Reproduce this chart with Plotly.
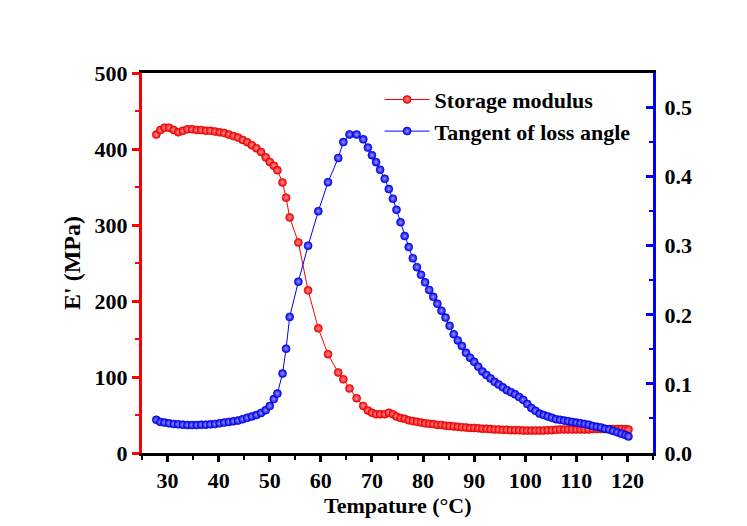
import plotly.graph_objects as go

temperature = [27.8, 28.6, 29.4, 30.3, 31.2, 32.1, 33.0, 33.9, 34.8, 35.7, 36.6, 37.5, 38.4, 39.3,
               40.2, 41.1, 42.0, 42.9, 43.8, 44.7, 45.6, 46.5, 47.4, 48.3, 49.2, 50.0, 50.8, 51.5,
               52.5, 53.2, 53.9, 55.6, 57.5, 59.5, 61.4, 63.4, 64.4, 65.6, 67.0, 68.3, 69.2, 70.0,
               70.8, 71.6, 72.5, 73.3, 74.1, 74.8, 75.6, 76.4, 77.2, 78.0, 78.8, 79.6, 80.4, 81.2,
               82.0, 82.8, 83.6, 84.4, 85.2, 86.0, 86.8, 87.6, 88.4, 89.2, 90.0, 90.8, 91.6, 92.4,
               93.2, 94.0, 94.8, 95.6, 96.4, 97.2, 98.0, 98.8, 99.6, 100.4, 101.2, 102.0, 102.8,
               103.6, 104.4, 105.2, 106.0, 106.8, 107.6, 108.4, 109.2, 110.0, 110.8, 111.6, 112.4,
               113.2, 114.0, 114.8, 115.6, 116.4, 117.2, 118.0, 118.8, 119.6, 120.2]

storage_modulus = [419, 425, 428, 428, 425, 422, 424, 426, 426, 425, 425, 424, 424, 423,
                   422, 421, 419, 417, 415, 412, 409, 405, 401, 396, 389, 383, 378, 372,
                   356, 336, 310, 277, 214, 164, 130, 106, 97, 85, 72, 62, 56, 53,
                   51, 51, 51, 53, 51, 48, 46, 45, 43, 42, 41, 40, 39, 38.5,
                   38, 37, 37, 36, 35.5, 35, 34.5, 34, 33.5, 33, 33, 32.5, 32, 32,
                   31.5, 31, 31, 30.5, 30.5, 30, 30, 30, 29.5, 29.5, 29.5, 29.5, 29.5,
                   29.5, 30, 30, 30.5, 31, 31, 31, 31, 31, 31, 31, 31,
                   31.5, 31.5, 31.5, 31.5, 31.5, 31.5, 31.5, 31.5, 31.5, 31]

tan_delta = [0.048, 0.045, 0.044, 0.043, 0.042, 0.0415, 0.041, 0.0405, 0.0405, 0.0405, 0.041, 0.041,
             0.0415, 0.042, 0.043, 0.044, 0.045, 0.046, 0.047, 0.049, 0.051, 0.053, 0.055, 0.058,
             0.062, 0.068, 0.078, 0.086, 0.115, 0.151, 0.197, 0.248, 0.300, 0.350, 0.392, 0.427,
             0.450, 0.461, 0.461, 0.454, 0.442, 0.431, 0.421, 0.410, 0.397, 0.382, 0.368, 0.352,
             0.334, 0.314, 0.298, 0.282, 0.269, 0.258, 0.247, 0.236, 0.226, 0.216, 0.206, 0.196,
             0.184, 0.172, 0.163, 0.155, 0.145, 0.138, 0.132, 0.125, 0.118, 0.113, 0.108, 0.103,
             0.099, 0.095, 0.091, 0.088, 0.085, 0.081, 0.077, 0.071, 0.065, 0.061, 0.057, 0.055,
             0.053, 0.051, 0.049, 0.048, 0.047, 0.046, 0.045, 0.044, 0.043, 0.042, 0.041, 0.039,
             0.038, 0.037, 0.035, 0.034, 0.032, 0.030, 0.028, 0.026, 0.024]

x_ticks = [30, 40, 50, 60, 70, 80, 90, 100, 110, 120]
left_ticks = [0, 100, 200, 300, 400, 500]
right_ticks = [0.0, 0.1, 0.2, 0.3, 0.4, 0.5]

FONT = "Liberation Serif"
RED = "#ff0000"
BLUE = "#0000ff"

fig = go.Figure()
fig.add_trace(go.Scatter(
    x=temperature, y=storage_modulus, name="Storage modulus", mode="lines+markers",
    line=dict(color=RED, width=1),
    marker=dict(size=8, color=RED, gradient=dict(type="radial", color="#ff9a9a"),
                line=dict(color="#d00000", width=0.6)),
    yaxis="y"))
fig.add_trace(go.Scatter(
    x=temperature, y=tan_delta, name="Tangent of loss angle", mode="lines+markers",
    line=dict(color=BLUE, width=1),
    marker=dict(size=8, color=BLUE, gradient=dict(type="radial", color="#9a9aff"),
                line=dict(color="#0000c0", width=0.6)),
    yaxis="y2"))

tickfont = dict(family=FONT, size=22, color="black", weight="bold")
fig.update_layout(
    width=747, height=526,
    margin=dict(l=134, r=102, t=65, b=81),
    paper_bgcolor="white", plot_bgcolor="white",
    showlegend=True,
    legend=dict(x=0.465, y=0.985, xanchor="left", yanchor="top",
                bgcolor="rgba(0,0,0,0)", itemwidth=45,
                font=dict(family=FONT, size=22, color="black", weight="bold"),
                tracegroupgap=0),
    xaxis=dict(range=[25, 125], tickvals=x_ticks, ticks="outside", ticklen=6, tickwidth=3,
               tickcolor="black", showline=True, linewidth=3, linecolor="black", mirror=True,
               showgrid=False, zeroline=False, tickfont=tickfont,
               minor=dict(ticks="outside", ticklen=4, tickwidth=2, tickcolor="black", dtick=5, tick0=25, showgrid=False)),
    yaxis=dict(range=[0, 500], tickvals=left_ticks, ticks="outside", ticklen=7, tickwidth=3,
               tickcolor=RED, showline=True, linewidth=3, linecolor=RED,
               showgrid=False, zeroline=False, tickfont=tickfont,
               minor=dict(ticks="outside", ticklen=4, tickwidth=2, tickcolor=RED, dtick=50, tick0=0, showgrid=False),
               title=dict(text="E' (MPa)", font=dict(family=FONT, size=24, color="black", weight="bold"), standoff=8)),
    yaxis2=dict(range=[0, 0.55], tickvals=right_ticks, tickformat=".1f", overlaying="y", side="right",
                ticks="inside", ticklen=7, tickwidth=3, tickcolor=BLUE,
                showline=True, linewidth=3, linecolor=BLUE,
                showgrid=False, zeroline=False, tickfont=tickfont, ticklabelstandoff=4,
                minor=dict(ticks="inside", ticklen=4, tickwidth=2, tickcolor=BLUE, dtick=0.05, tick0=0, showgrid=False)),
    annotations=[dict(text="Tempature (°C)", xref="paper", yref="paper", x=0.5, y=-0.137,
                      xanchor="center", yanchor="middle", showarrow=False,
                      font=dict(family=FONT, size=22, color="black", weight="bold"))],
)

fig.write_html("out.html")
